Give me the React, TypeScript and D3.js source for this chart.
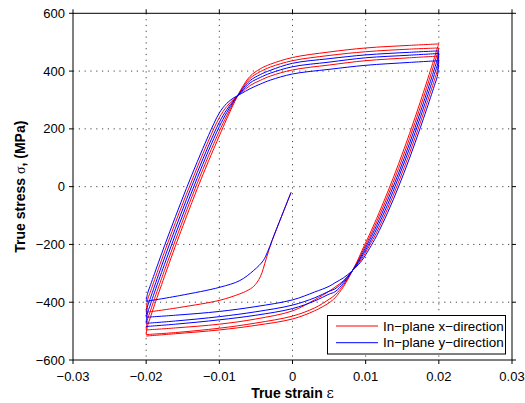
import React from 'react';
import * as d3 from 'd3';

const W = 525;
const H = 403;
const PLOT = { left: 73, right: 512, top: 13.3, bottom: 360 };

const xTicks = [-0.03, -0.02, -0.01, 0, 0.01, 0.02, 0.03];
const xTickLabels = ['\u22120.03', '\u22120.02', '\u22120.01', '0', '0.01', '0.02', '0.03'];
const yTicks = [-600, -400, -200, 0, 200, 400, 600];
const yTickLabels = ['\u2212600', '\u2212400', '\u2212200', '0', '200', '400', '600'];

const seriesNames = ['In\u2212plane x\u2212direction', 'In\u2212plane y\u2212direction'];
const seriesColors = ['#ff0000', '#0000ff'];

// Initial compressive loading (strain, stress)
const redInitialStrain = [-0.0002, -0.0015, -0.0028, -0.0036, -0.0044, -0.0053, -0.0062, -0.0072, -0.0099, -0.0154, -0.02];
const redInitialStress = [-20, -103, -187, -250, -312, -345, -360, -371, -393, -418, -435];
const blueInitialStrain = [-0.0002, -0.0015, -0.0028, -0.0034, -0.004, -0.0053, -0.0072, -0.0099, -0.0154, -0.02];
const blueInitialStress = [-20, -103, -187, -225, -256, -290, -325, -348, -377, -397];

// Tension branches: strain from -0.02 to +0.02
const tensionStrain = [-0.02, -0.0198, -0.0195, -0.019, -0.0175, -0.016, -0.0145, -0.013, -0.0115, -0.01, -0.009, -0.008, -0.007, -0.0058, -0.0044, -0.003, 0, 0.005, 0.01, 0.016, 0.02];
const redTension1 = [-435, -391, -369, -333, -226, -124, -26, 68, 158, 239, 277, 304, 325, 350, 368, 383, 404, 421, 436, 446, 452];
const redTension2 = [-496, -458, -436, -398, -290, -185, -84, 13, 105, 192, 245, 293, 335, 375, 398, 414, 436, 454, 467, 476, 480];
const redTension3 = [-512, -480, -458, -420, -311, -205, -104, -6, 87, 176, 234, 289, 338, 382, 408, 424, 447, 466, 480, 489, 494];
const blueTension1 = [-397, -369, -347, -311, -205, -104, -6, 87, 176, 255, 288, 308, 322, 339, 355, 369, 390, 406, 420, 430, 436];
const blueTension2 = [-452, -413, -391, -355, -247, -144, -45, 50, 140, 223, 266, 300, 328, 359, 378, 393, 415, 431, 446, 455, 461];
const blueTension3 = [-473, -436, -414, -376, -269, -165, -65, 31, 123, 208, 256, 297, 332, 367, 388, 403, 427, 443, 456, 465, 470];

// Compression branches: strain from +0.02 to -0.02
const compressionStrain = [0.02, 0.0198, 0.0195, 0.019, 0.0175, 0.016, 0.0145, 0.013, 0.0115, 0.0105, 0.0095, 0.009, 0.008, 0.007, 0.0058, 0.005, 0.003, 0, -0.005, -0.01, -0.016, -0.02];
const redCompression1 = [452, 402, 377, 338, 224, 116, 16, -76, -158, -205, -248, -266, -296, -325, -348, -362, -392, -430, -458, -476, -489, -496];
const redCompression2 = [480, 460, 436, 395, 278, 167, 63, -33, -122, -177, -228, -254, -299, -339, -375, -390, -420, -448, -472, -490, -505, -512];
const redCompression3 = [494, 480, 455, 414, 296, 184, 79, -19, -110, -167, -221, -250, -300, -345, -385, -402, -430, -458, -480, -496, -509, -517];
const blueCompression1 = [436, 382, 358, 319, 206, 99, 0, -90, -170, -215, -255, -270, -295, -315, -333, -345, -365, -392, -415, -432, -445, -452];
const blueCompression2 = [461, 421, 397, 357, 242, 133, 32, -62, -146, -196, -241, -262, -297, -327, -354, -362, -385, -410, -433, -450, -465, -473];
const blueCompression3 = [470, 441, 416, 376, 260, 150, 47, -47, -134, -186, -235, -258, -298, -333, -364, -372, -396, -422, -445, -461, -476, -484];

type Pt = [number, number];
const zip = (xs: number[], ys: number[]): Pt[] => xs.map((x, i) => [x, ys[i]] as Pt);

const redBranches: Pt[][] = [
  zip(redInitialStrain, redInitialStress),
  zip(tensionStrain, redTension1),
  zip(compressionStrain, redCompression1),
  zip(tensionStrain, redTension2),
  zip(compressionStrain, redCompression2),
  zip(tensionStrain, redTension3),
  zip(compressionStrain, redCompression3),
];
const blueBranches: Pt[][] = [
  zip(blueInitialStrain, blueInitialStress),
  zip(tensionStrain, blueTension1),
  zip(compressionStrain, blueCompression1),
  zip(tensionStrain, blueTension2),
  zip(compressionStrain, blueCompression2),
  zip(tensionStrain, blueTension3),
  zip(compressionStrain, blueCompression3),
];

const FONT = '"Liberation Sans", Arial, Helvetica, sans-serif';

export default function App() {
  const x = d3.scaleLinear().domain([-0.03, 0.03]).range([PLOT.left, PLOT.right]);
  const y = d3.scaleLinear().domain([-600, 600]).range([PLOT.bottom, PLOT.top]);
  const line = d3
    .line<Pt>()
    .x((d) => x(d[0]))
    .y((d) => y(d[1]))
    .curve(d3.curveCatmullRom.alpha(0.5));
  const sorted = (pts: Pt[]) => pts.slice().sort((a, b) => a[0] - b[0]);

  const tickLen = 4;
  const legend = { x0: 327.5, y0: 315.5, x1: 505.5, y1: 354 };

  return (
    <svg width={W} height={H} style={{ position: 'absolute', left: 0, top: 0, background: '#fff' }} fontFamily={FONT}>
      <rect x={0} y={0} width={W} height={H} fill="#fff" />
      {/* grid */}
      <g stroke="#444" strokeWidth={1} strokeDasharray="1.2,4.6">
        {xTicks.slice(1, -1).map((t) => (
          <line key={'gx' + t} x1={x(t)} x2={x(t)} y1={PLOT.top} y2={PLOT.bottom} />
        ))}
        {yTicks.slice(1, -1).map((t) => (
          <line key={'gy' + t} x1={PLOT.left} x2={PLOT.right} y1={y(t)} y2={y(t)} />
        ))}
      </g>
      {/* data */}
      <g fill="none" strokeWidth={1}>
        {redBranches.map((b, i) => (
          <path key={'r' + i} d={line(sorted(b)) || ''} stroke={seriesColors[0]} />
        ))}
        {blueBranches.map((b, i) => (
          <path key={'b' + i} d={line(sorted(b)) || ''} stroke={seriesColors[1]} />
        ))}
      </g>
      {/* box */}
      <rect x={PLOT.left} y={PLOT.top} width={PLOT.right - PLOT.left} height={PLOT.bottom - PLOT.top} fill="none" stroke="#000" strokeWidth={1} />
      {/* ticks */}
      <g stroke="#000" strokeWidth={1}>
        {xTicks.map((t) => (
          <g key={'tx' + t}>
            <line x1={x(t)} x2={x(t)} y1={PLOT.bottom} y2={PLOT.bottom + tickLen} />
            <line x1={x(t)} x2={x(t)} y1={PLOT.top} y2={PLOT.top - tickLen} />
          </g>
        ))}
        {yTicks.map((t) => (
          <g key={'ty' + t}>
            <line x1={PLOT.left - tickLen} x2={PLOT.left} y1={y(t)} y2={y(t)} />
            <line x1={PLOT.right} x2={PLOT.right + tickLen} y1={y(t)} y2={y(t)} />
          </g>
        ))}
      </g>
      {/* tick labels */}
      <g fontSize={13} fill="#000">
        {xTicks.map((t, i) => (
          <text key={'lx' + t} x={x(t)} y={381} textAnchor="middle">
            {xTickLabels[i]}
          </text>
        ))}
        {yTicks.map((t, i) => (
          <text key={'ly' + t} x={65} y={y(t) + 4.6} textAnchor="end">
            {yTickLabels[i]}
          </text>
        ))}
      </g>
      {/* axis titles */}
      <text x={(PLOT.left + PLOT.right) / 2} y={398} textAnchor="middle" fontSize={14} fontWeight="bold">
        True strain{' '}
        <tspan fontFamily='"DejaVu Serif", "Liberation Serif", serif' fontWeight="normal">
          ε
        </tspan>
      </text>
      <text
        transform={`translate(25, ${(PLOT.top + PLOT.bottom) / 2}) rotate(-90)`}
        textAnchor="middle"
        fontSize={14}
        fontWeight="bold"
      >
        True stress{' '}
        <tspan fontFamily='"Liberation Serif", "DejaVu Serif", serif' fontWeight="normal">
          σ
        </tspan>
        , (MPa)
      </text>
      {/* legend */}
      <rect x={legend.x0} y={legend.y0} width={legend.x1 - legend.x0} height={legend.y1 - legend.y0} fill="#fff" stroke="#000" strokeWidth={1} />
      {seriesNames.map((name, i) => {
        const cy = 326 + i * 16.7;
        return (
          <g key={name}>
            <line x1={336} x2={378} y1={cy} y2={cy} stroke={seriesColors[i]} strokeWidth={1} />
            <text x={383} y={cy + 4.6} fontSize={13.4}>
              {name}
            </text>
          </g>
        );
      })}
    </svg>
  );
}
